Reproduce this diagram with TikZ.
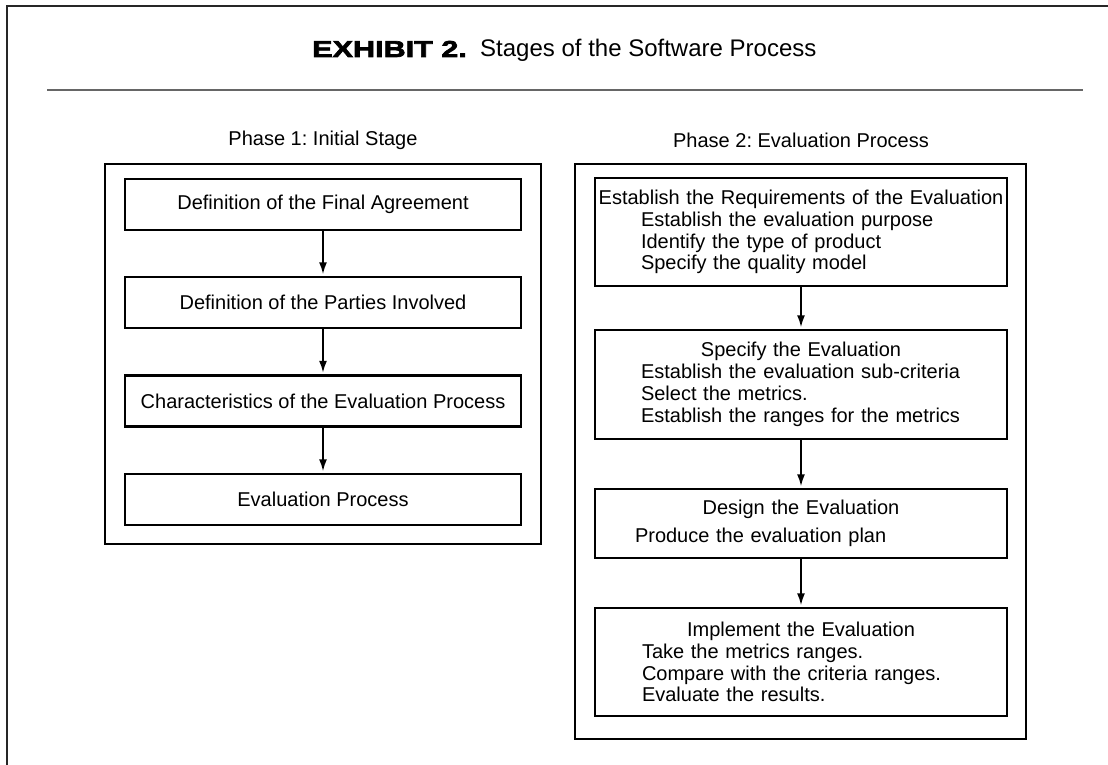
\documentclass[tikz,border=0pt]{standalone}
\usepackage{fontspec}
\setmainfont{Liberation Sans}
\newfontfamily\exhibitfont[FakeStretch=1.33,BoldFeatures={FakeBold=3}]{Liberation Sans}
\usetikzlibrary{arrows.meta,positioning}
\frenchspacing

\begin{document}
\begin{tikzpicture}[x=1pt,y=-1pt,
  stagebox/.style={draw,line width=2.6pt,inner sep=0pt,minimum width=396pt,minimum height=51pt,font=\fontsize{20}{21.8}\selectfont},
  evalbox/.style={draw,line width=2.6pt,inner sep=0pt,text width=412pt,align=left,font=\fontsize{20}{21.8}\selectfont},
  flow/.style={line width=1.8pt,shorten >=1.4pt,-{Latex[length=12pt,width=8pt]}},
  phaselabel/.style={font=\fontsize{20}{24}\selectfont}]
\useasboundingbox (0,0) rectangle (1108,765);
\draw[line width=2.4pt,black!85] (1108,6) -- (7,6) -- (7,765);
\draw[line width=2.6pt,black!60] (47,90) -- (1083,90);
\node[anchor=base west,inner sep=0pt,font=\exhibitfont\bfseries\fontsize{23}{26}\selectfont] (exhibit) at (312,57) {EXHIBIT 2.};
\node[anchor=base west,inner sep=0pt,font=\fontsize{24}{28}\selectfont] (heading) at (480,57) {Stages of the Software Process};

% phase 1
\node[phaselabel] (p1) at (323,140) {Phase 1: Initial Stage};
\draw[line width=2.6pt] (105,164) rectangle (541,544);
\node[stagebox] (agreement) at (323,204.5) {Definition of the Final Agreement};
\node[stagebox] (parties) at (323,302.5) {Definition of the Parties Involved};
\node[stagebox] (characteristics) at (323,401) {Characteristics of the Evaluation Process};
\node[stagebox] (evalproc) at (323,499.5) {Evaluation Process};
\draw[flow] (agreement) -- (parties);
\draw[flow] (parties) -- (characteristics);
\draw[flow] (characteristics) -- (evalproc);

% phase 2
\node[phaselabel] (p2) at (801,140) {Phase 2: Evaluation Process};
\draw[line width=2.6pt] (575,164) rectangle (1026,739);
\node[evalbox,minimum height=108pt] (require) at (801,232) {%
  \makebox[412pt]{Establish the Requirements of the Evaluation}\\
  \hspace*{46pt}Establish the evaluation purpose\\
  \hspace*{46pt}Identify the type of product\\
  \hspace*{46pt}Specify the quality model};
\node[evalbox,minimum height=109pt] (specify) at (801,384.5) {%
  \makebox[412pt]{Specify the Evaluation}\\
  \hspace*{46pt}Establish the evaluation sub-criteria\\
  \hspace*{46pt}Select the metrics.\\
  \hspace*{46pt}Establish the ranges for the metrics};
\node[evalbox,minimum height=69pt] (design) at (801,523.5) {%
  \makebox[412pt]{Design the Evaluation}\\[6pt]
  \hspace*{40pt}Produce the evaluation plan};
\node[evalbox,minimum height=108pt] (implement) at (801,662) {%
  \makebox[412pt]{Implement the Evaluation}\\
  \hspace*{47pt}Take the metrics ranges.\\
  \hspace*{47pt}Compare with the criteria ranges.\\
  \hspace*{47pt}Evaluate the results.};
\draw[flow] (require) -- (specify);
\draw[flow] (specify) -- (design);
\draw[flow] (design) -- (implement);
\end{tikzpicture}
\end{document}
